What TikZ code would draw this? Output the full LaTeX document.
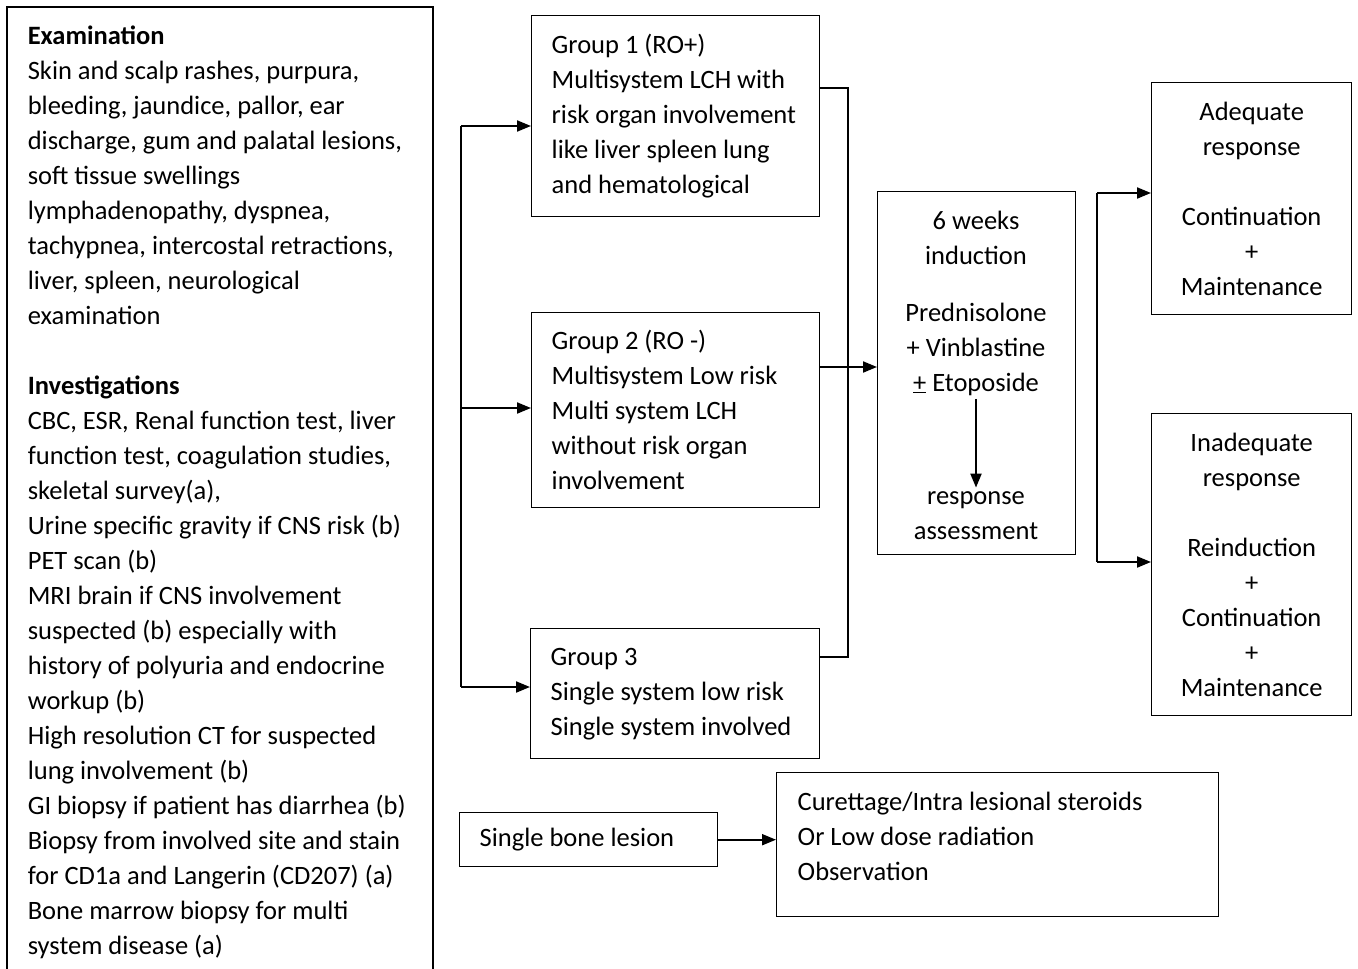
\documentclass[tikz,border=0pt]{standalone}
\usepackage{fontspec}
\setmainfont{Carlito}
\usetikzlibrary{arrows.meta}

\begin{document}
\begin{tikzpicture}[x=1pt, y=-1pt, >={Triangle[length=14pt,width=11pt]},
	every node/.style={font=\fontsize{26.5}{35}\selectfont},
	frame/.style={draw, line width=1.4pt, anchor=north west, inner ysep=0pt},
	leftbox/.style={frame, align=flush left, inner xsep=0pt, text width=#1,
		execute at begin node={\leftskip=20pt\relax}},
	midbox/.style={frame, align=flush center, inner xsep=10pt, text width=#1},
	txt/.style={anchor=base, align=flush center, text width=#1},
	thin/.style={line width=1.1pt},
	arr/.style={->, line width=2pt}]

	\useasboundingbox (0,0) rectangle (1358,969);
	\fill[white] (0,0) rectangle (1358,969);
	\clip (0,0) rectangle (1358,969);

	% examination and investigations
	\node[draw, line width=1.6pt, anchor=north west, align=flush left, inner xsep=0pt,
		inner ysep=19pt, text width=426pt, execute at begin node={\leftskip=21pt\relax}]
		(exam) at (6,6)
		{\textbf{Examination}\\
		Skin and scalp rashes, purpura,\\
		bleeding, jaundice, pallor, ear\\
		discharge, gum and palatal lesions,\\
		soft tissue swellings\\
		lymphadenopathy, dyspnea,\\
		tachypnea, intercostal retractions,\\
		liver, spleen, neurological\\
		examination\\[35pt]
		\textbf{Investigations}\\
		CBC, ESR, Renal function test, liver\\
		function test, coagulation studies,\\
		skeletal survey(a),\\
		Urine specific gravity if CNS risk (b)\\
		PET scan (b)\\
		MRI brain if CNS involvement\\
		suspected (b) especially with\\
		history of polyuria and endocrine\\
		workup (b)\\
		High resolution CT for suspected\\
		lung involvement (b)\\
		GI biopsy if patient has diarrhea (b)\\
		Biopsy from involved site and stain\\
		for CD1a and Langerin (CD207) (a)\\
		Bone marrow biopsy for multi\\
		system disease (a)};

	% risk groups
	\node[leftbox=288pt, minimum height=201pt] (g1) at (531,15)
		{Group 1 (RO+)\\Multisystem LCH with\\risk organ involvement\\like liver spleen lung\\and hematological};
	\node[leftbox=288pt, minimum height=195pt] (g2) at (531,312)
		{Group 2 (RO -)\\Multisystem Low risk\\Multi system LCH\\without risk organ\\involvement};
	\node[leftbox=289pt, minimum height=130pt] (g3) at (530,628)
		{Group 3\\Single system low risk\\Single system involved};

	% induction
	\node[frame, minimum width=198pt, minimum height=363pt] (ind) at (877,191) {};
	\node[txt=190pt] (drugs) at (976,229)
		{6 weeks\\induction\\[22pt]Prednisolone\\+ Vinblastine\\\underline{+} Etoposide};
	\node[txt=190pt] (assess) at (976,504) {response\\assessment};

	% outcomes
	\node[midbox=180pt, minimum height=232pt] (adq) at (1151,82)
		{Adequate\\response\\[35pt]Continuation\\+\\Maintenance};
	\node[midbox=180pt, minimum height=302pt] (inadq) at (1151,413)
		{Inadequate\\response\\[35pt]Reinduction\\+\\Continuation\\+\\Maintenance};

	% single bone lesion
	\node[leftbox=258pt, minimum height=54pt] (bone) at (459,812) {Single bone lesion};
	\node[leftbox=442pt, execute at begin node={\leftskip=21pt\relax}, minimum height=144pt]
		(cur) at (776,772)
		{Curettage/Intra lesional steroids\\Or Low dose radiation\\Observation\rule[-16pt]{0pt}{0pt}};

	% left fan
	\coordinate (s1) at (461,126);
	\coordinate (s2) at (461,408);
	\coordinate (s3) at (461,687);
	\draw[line width=2pt] (s1) -- (s3);
	\draw[arr] (s1) -- (s1 -| g1.west);
	\draw[arr] (s2) -- (s2 -| g2.west);
	\draw[arr] (s3) -- (s3 -| g3.west);

	% collector into induction
	\coordinate (j1) at (848,88);
	\coordinate (j2) at (848,367);
	\coordinate (j3) at (848,657);
	\draw[thin] (j1 -| g1.east) -- (j1) -- (j3) -- (j3 -| g3.east);
	\draw[thin] (j2 -| g2.east) -- (j2);
	\draw[arr] (j2) -- (j2 -| ind.west);
	\draw[arr] (drugs) -- (assess);

	% right fan
	\coordinate (k1) at (1097,193);
	\coordinate (k2) at (1097,562);
	\draw[line width=2pt] (k1) -- (k2);
	\draw[arr] (k1) -- (k1 -| adq.west);
	\draw[arr] (k2) -- (k2 -| inadq.west);

	\draw[arr] (bone.east) -- (bone.east -| cur.west);

\end{tikzpicture}
\end{document}
